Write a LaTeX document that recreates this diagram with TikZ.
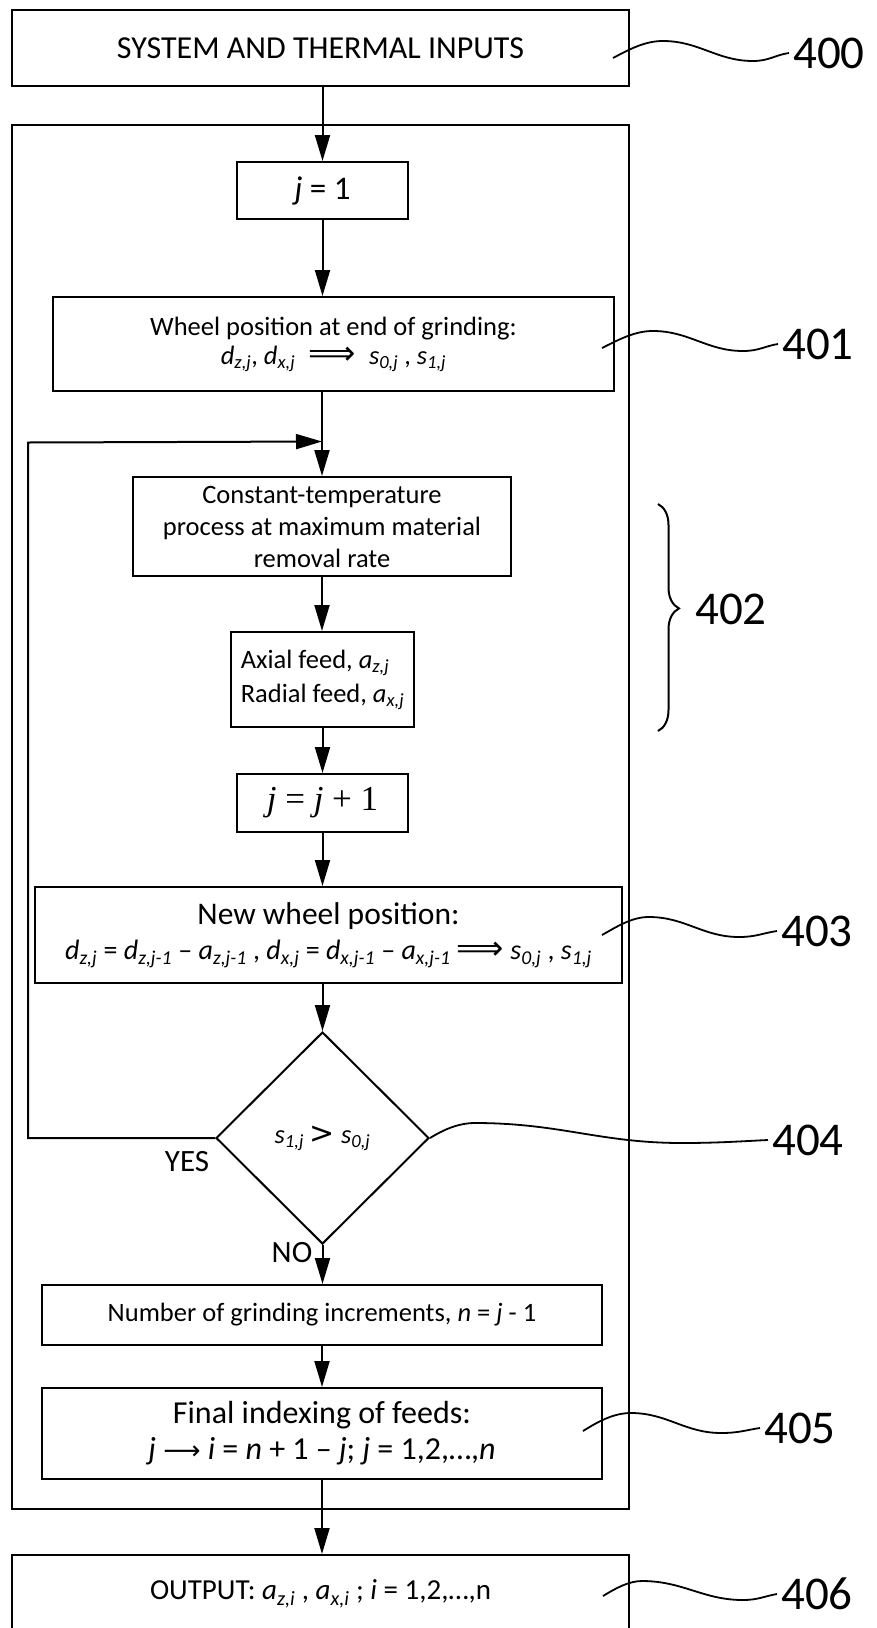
\documentclass[tikz,border=0pt]{standalone}
\usepackage{fontspec}
\setmainfont{Carlito}
\newfontfamily\djv{DejaVu Sans}
\newfontfamily\tms{Liberation Serif}
\usetikzlibrary{arrows.meta,shapes.geometric,decorations.pathreplacing}
\newcommand\vv[2]{\textit{#1}\textsubscript{\textit{#2}}}
\newcommand\fs[2]{\fontsize{#1}{#2}\selectfont}
\newcommand\LRA{{\djv\fontsize{33}{33}\selectfont\char"27F9}}
\newcommand\LRa{{\djv\fontsize{26}{26}\selectfont\char"27F6}}
\begin{document}
\begin{tikzpicture}[x=1pt,y=-1pt,
  box/.style={draw, line width=2pt, inner sep=0pt, align=center},
  arr/.style={line width=2pt, -{Triangle[length=26pt,width=15pt]}},
  lab/.style={font=\fs{47}{50}, inner sep=4pt, anchor=west},
  sq/.style={line width=1.8pt}]
\useasboundingbox (0,0) rectangle (876,1628);
\fill[white] (0,0) rectangle (876,1628);

% boxes
\node[box, minimum width=617pt, minimum height=76pt, font=\fs{32}{36}] (top) at (320.5,48) {SYSTEM AND THERMAL INPUTS};
\node[box, minimum width=617pt, minimum height=1384pt] (outer) at (320.5,817) {};
\node[box, minimum width=171pt, minimum height=57pt, font=\fs{33}{36}] (j1) at (322.5,190.5) {\textit{j} = 1};
\node[box, minimum width=561pt, minimum height=94pt, font=\fs{26.5}{29}] (b401) at (333.5,344)
  {Wheel position at end of grinding:\\ \vv{d}{z,j}, \vv{d}{x,j}\enspace\LRA\enspace \vv{s}{0,j} , \vv{s}{1,j}};
\node[box, minimum width=378pt, minimum height=99pt, font=\fs{26.5}{32}] (ct) at (322,526.5)
  {Constant-temperature\\process at maximum material\\removal rate};
\node[box, minimum width=183pt, minimum height=95pt, font=\fs{26.5}{34}, align=left] (ax) at (322.5,679.5)
  {Axial feed, \vv{a}{z,j}\\Radial feed, \vv{a}{x,j}};
\node[box, minimum width=171pt, minimum height=58pt, font=\fs{35}{40}\tms] (jj) at (322.5,803) {\textit{j} = \textit{j} + 1};
\node[box, minimum width=587pt, minimum height=96pt, font=\fs{31.5}{35}] (nw) at (328.5,935)
  {New wheel position:\\ {\fs{28}{35}\vv{d}{z,j} = \vv{d}{z,j-1} – \vv{a}{z,j-1} , \vv{d}{x,j} = \vv{d}{x,j-1} – \vv{a}{x,j-1} \LRA\ \vv{s}{0,j} , \vv{s}{1,j}}};
\node[draw, diamond, line width=2pt, minimum width=213pt, minimum height=212pt, inner sep=0pt, font=\fs{26.5}{30}] (dec) at (322.5,1138)
  {\vv{s}{1,j} {\djv\fontsize{30}{30}\selectfont >} \vv{s}{0,j}};
\node[box, minimum width=560pt, minimum height=60pt, font=\fs{26.5}{30}] (num) at (322,1315)
  {Number of grinding increments, \textit{n} = \textit{j} - 1};
\node[box, minimum width=560pt, minimum height=91pt, font=\fs{32}{36}] (fin) at (322,1433.5)
  {Final indexing of feeds:\\ \textit{j} \LRa\ \textit{i} = \textit{n} + 1 – \textit{j}; \textit{j} = 1,2,…,\textit{n}};
\node[box, minimum width=617pt, minimum height=78pt, font=\fs{29}{30}] (out) at (320.5,1594)
  {OUTPUT: \vv{a}{z,i} , \vv{a}{x,i} ; \textit{i} = 1,2,…,n};

% yes / no
\node[font=\fs{31}{31}, inner sep=0pt] (yes) at (187,1162) {YES};
\node[font=\fs{31}{31}, inner sep=0pt] (no) at (292,1253) {NO};

% arrows
\draw[arr] (top.south -| j1.north) -- (j1.north);
\draw[arr] (j1.south) -- (j1.south |- b401.north);
\draw[arr] (b401.south -| ct.north) -- (ct.north);
\path (ct.north) ++(0,-34.5) coordinate (merge);
\coordinate (loopc) at (28,442.5);
\draw[arr] (dec.west) -| (loopc) -- (merge);
\draw[arr] (ct.south) -- (ct.south |- ax.north);
\draw[arr] (ax.south) -- (ax.south |- jj.north);
\draw[arr] (jj.south) -- (jj.south |- nw.north);
\draw[arr] (nw.south -| dec.north) -- (dec.north);
\draw[arr] (dec.south) -- (dec.south |- num.north);
\draw[arr] (num.south) -- (num.south |- fin.north);
\draw[arr] (fin.south) -- (fin.south |- out.north);

% brace
\draw[decorate, decoration={brace, amplitude=21pt, aspect=0.46}, line width=2pt] (658,504) -- (658,731);

% reference labels
\node[lab] (l400) at (789,53) {400};
\node[lab] (l401) at (778,344) {401};
\node[lab] (l402) at (691,609) {402};
\node[lab] (l403) at (777,931) {403};
\node[lab] (l404) at (768,1140) {404};
\node[lab] (l405) at (760,1428) {405};
\node[lab] (l406) at (777,1594) {406};

% squiggles
\coordinate (s400) at (613,58);
\coordinate (s401) at (602,348);
\coordinate (s403) at (602,935);
\coordinate (s405) at (583,1431);
\coordinate (s406) at (603,1596);
\draw[sq] (s400) .. controls (630,49) and (645,41) .. (663,41) .. controls (699,41) and (717,61) .. (753,61) .. controls (769,61) and (775,55) .. (l400.west);
\draw[sq] (s401) .. controls (620,339) and (635,331) .. (653,331) .. controls (689,331) and (707,351) .. (743,351) .. controls (759,351) and (765,346) .. (l401.west);
\draw[sq] (s403) .. controls (618,926) and (632,917) .. (649,917) .. controls (685,917) and (703,937) .. (739,937) .. controls (756,937) and (763,933) .. (l403.west);
\draw[sq] (dec.east) .. controls (443,1130) and (458,1123) .. (475,1123) .. controls (560,1123) and (600,1143) .. (682,1143) .. controls (720,1143) and (745,1141) .. (l404.west);
\draw[sq] (s405) .. controls (599,1421) and (614,1413) .. (631,1413) .. controls (667,1413) and (685,1433) .. (721,1433) .. controls (739,1433) and (746,1430) .. (l405.west);
\draw[sq] (s406) .. controls (616,1588) and (629,1581) .. (642,1581) .. controls (683,1581) and (703,1600) .. (743,1600) .. controls (758,1600) and (765,1596) .. (l406.west);
\end{tikzpicture}
\end{document}
